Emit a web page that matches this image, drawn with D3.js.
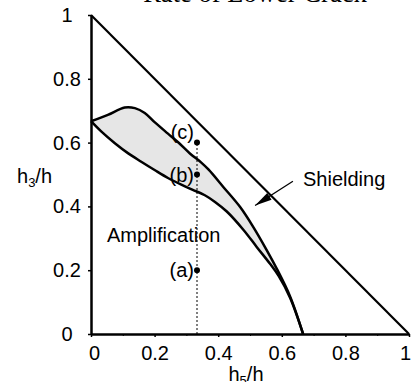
<!DOCTYPE html>
<html>
<head>
<meta charset="utf-8">
<script src="https://cdn.jsdelivr.net/npm/d3@7"></script>
<style>
  body { margin: 0; background: #fff; }
  svg { display: block; }
  text { font-family: "Liberation Sans", Arial, sans-serif; fill: #000; }
  .title { font-family: "Liberation Serif", "Times New Roman", serif; }
  .axis path, .axis line { stroke: #000; }
</style>
</head>
<body>
<script>
// upper boundary of the grey band (h5/h, h3/h)
const upperCurve = [
  [0, 0.667], [0.053, 0.687], [0.106, 0.71], [0.138, 0.708], [0.169, 0.693],
  [0.2, 0.664], [0.242, 0.628], [0.274, 0.601], [0.311, 0.566], [0.346, 0.538],
  [0.37, 0.515], [0.416, 0.461], [0.469, 0.398], [0.51, 0.336], [0.552, 0.264],
  [0.584, 0.205], [0.626, 0.118], [0.667, 0]
];
// lower boundary of the grey band
const lowerCurve = [
  [0, 0.667], [0.032, 0.635], [0.075, 0.598], [0.116, 0.567], [0.158, 0.54],
  [0.2, 0.514], [0.242, 0.489], [0.284, 0.468], [0.32, 0.452], [0.358, 0.435],
  [0.39, 0.414], [0.427, 0.384], [0.479, 0.327], [0.521, 0.273], [0.563, 0.22],
  [0.59, 0.182], [0.626, 0.114], [0.667, 0]
];
// marked points (a), (b), (c)
const points = [
  {label: "(a)", x: 1/3, y: 0.2},
  {label: "(b)", x: 1/3, y: 0.5},
  {label: "(c)", x: 1/3, y: 0.6}
];
const tickVals = [0, 0.2, 0.4, 0.6, 0.8, 1];
const minorTicks = [0.1, 0.3, 0.5, 0.7, 0.9];
const limitLine = [[0, 1], [1, 0]];
const arrowFrom = [0.635, 0.479], arrowTo = [0.516, 0.403];

const width = 413, height = 382;
let padding = {top: 15, right: 4, bottom: 48, left: 91};

const svg = d3.select("body").append("svg")
  .attr("width", width)
  .attr("height", height);

let x = d3.scaleLinear().domain([0, 1]).range([padding.left, width - padding.right]);
let y = d3.scaleLinear().domain([0, 1]).range([height - padding.bottom, padding.top]);

const line = d3.line()
  .x(d => x(d[0]))
  .y(d => y(d[1]))
  .curve(d3.curveCatmullRom);

// grey band between the two curves
const lowerRev = lowerCurve.slice().reverse();
svg.append("path")
  .attr("d", line(upperCurve) + line(lowerRev).replace(/^M/, "L") + "Z")
  .attr("fill", "#e6e6e6")
  .attr("stroke", "none");

// dotted guide at h5/h = 1/3
svg.append("line")
  .attr("x1", x(1/3)).attr("x2", x(1/3))
  .attr("y1", y(0)).attr("y2", y(0.6))
  .attr("stroke", "#000")
  .attr("stroke-width", 1)
  .attr("stroke-dasharray", "2,2");

// X axis
svg.append("g")
  .attr("class", "axis x")
  .attr("transform", "translate(0," + y(0) + ")")
  .call(d3.axisBottom(x).tickValues(tickVals).tickSize(3).tickSizeOuter(0).tickPadding(9).tickFormat(d3.format("~g")))
  .call(g => g.select(".domain").attr("stroke-width", 2.5))
  .call(g => g.selectAll("line").attr("stroke-width", 1.5))
  .call(g => g.selectAll("text")
    .attr("dx", d => d == 0 ? 3 : (d == 1 ? -4 : 0))
    .style("font-size", "20px"));

svg.append("g")
  .attr("class", "axis x minor")
  .attr("transform", "translate(0," + y(0) + ")")
  .call(d3.axisBottom(x).tickValues(minorTicks).tickSize(2).tickFormat(""))
  .call(g => g.select(".domain").remove())
  .call(g => g.selectAll("line").attr("stroke", "#888"));

// Y axis
svg.append("g")
  .attr("class", "axis y")
  .attr("transform", "translate(" + x(0) + ",0)")
  .call(d3.axisLeft(y).tickValues(tickVals).tickSize(3).tickSizeOuter(0).tickFormat(d3.format("~g")))
  .call(g => g.select(".domain").attr("stroke-width", 2.5))
  .call(g => g.selectAll("line").attr("stroke-width", 1.5))
  .call(g => g.selectAll("text")
    .attr("x", -24)
    .attr("text-anchor", "middle")
    .style("font-size", "20px"));

// limit line (triangle hypotenuse)
svg.append("path")
  .attr("d", d3.line().x(d => x(d[0])).y(d => y(d[1]))(limitLine))
  .attr("fill", "none")
  .attr("stroke", "#000")
  .attr("stroke-width", 2.2);

// the two boundary curves
svg.selectAll(".curve")
  .data([upperCurve, lowerCurve])
  .join("path")
    .attr("class", "curve")
    .attr("d", d => line(d))
    .attr("fill", "none")
    .attr("stroke", "#000")
    .attr("stroke-width", 2.5)
    .attr("stroke-linejoin", "round");

// points and labels
svg.selectAll(".pt")
  .data(points)
  .join("circle")
    .attr("class", "pt")
    .attr("cx", d => x(d.x))
    .attr("cy", d => y(d.y))
    .attr("r", 3);

svg.selectAll(".ptlabel")
  .data(points)
  .join("text")
    .attr("class", "ptlabel")
    .attr("x", d => x(d.x) - 3)
    .attr("y", d => y(d.y) + (d.label == "(c)" ? -4 : 7))
    .attr("text-anchor", "end")
    .style("font-size", "20px")
    .text(d => d.label);

// Shielding arrow
const ax0 = x(arrowFrom[0]), ay0 = y(arrowFrom[1]);
const ax1 = x(arrowTo[0]), ay1 = y(arrowTo[1]);
svg.append("line")
  .attr("x1", ax0).attr("y1", ay0)
  .attr("x2", ax1).attr("y2", ay1)
  .attr("stroke", "#000")
  .attr("stroke-width", 1.3);

const ang = Math.atan2(ay1 - ay0, ax1 - ax0);
const headLen = 17, headW = 4;
const bx = ax1 - headLen * Math.cos(ang), by = ay1 - headLen * Math.sin(ang);
svg.append("path")
  .attr("d", "M" + ax1 + "," + ay1 +
    "L" + (bx + headW * Math.sin(ang)) + "," + (by - headW * Math.cos(ang)) +
    "L" + (bx - headW * Math.sin(ang)) + "," + (by + headW * Math.cos(ang)) + "Z")
  .attr("fill", "#000");

// ------------ Text ----------------- //
svg.append("text")
  .attr("x", 303)
  .attr("y", 186)
  .style("font-size", "20px")
  .text("Shielding");

svg.append("text")
  .attr("x", 107)
  .attr("y", 242)
  .style("font-size", "20px")
  .text("Amplification");

svg.append("text")
  .attr("class", "title")
  .attr("x", 255)
  .attr("y", 2)
  .attr("text-anchor", "middle")
  .style("font-size", "26.6px")
  .text("Rate of Lower Crack");

const ylab = svg.append("text")
  .attr("x", 17)
  .attr("y", 183)
  .style("font-size", "20px");
ylab.append("tspan").text("h");
ylab.append("tspan").attr("dy", 4).style("font-size", "13px").text("3");
ylab.append("tspan").attr("dy", -4).text("/h");

const xlab = svg.append("text")
  .attr("x", 246)
  .attr("y", 381)
  .attr("text-anchor", "middle")
  .style("font-size", "20px");
xlab.append("tspan").text("h");
xlab.append("tspan").attr("dy", 4).style("font-size", "13px").text("5");
xlab.append("tspan").attr("dy", -4).text("/h");
</script>
</body>
</html>
